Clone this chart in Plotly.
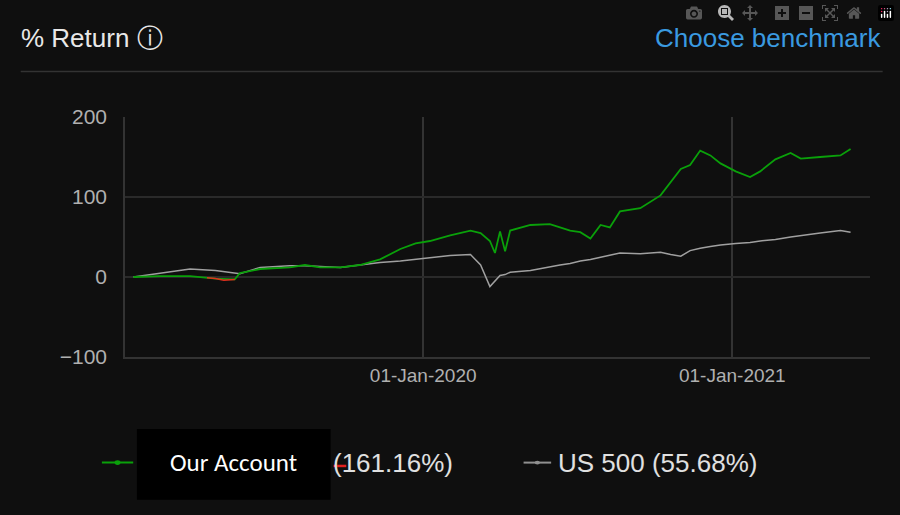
import plotly.graph_objects as go

dates = ["2019-01-23","2019-02-23","2019-03-31","2019-04-30","2019-05-23","2019-05-29","2019-06-22",
"2019-07-27","2019-08-14","2019-09-01","2019-09-25","2019-10-18","2019-11-11","2019-12-05","2019-12-23",
"2020-01-09","2020-02-02","2020-02-26","2020-03-09","2020-03-20","2020-03-26","2020-04-01","2020-04-07",
"2020-04-13","2020-05-07","2020-05-30","2020-06-11","2020-06-23","2020-07-05","2020-07-17","2020-07-29",
"2020-08-09","2020-08-21","2020-09-14","2020-10-08","2020-10-20","2020-11-01","2020-11-12","2020-11-24",
"2020-12-06","2020-12-18","2021-01-05","2021-01-22","2021-02-03","2021-02-21","2021-03-11","2021-03-23",
"2021-04-15","2021-05-09","2021-05-21"]
account = [0,1,1,-2,-3,5,10,12,15,12,12,15,22,35,42,45,52,58,55,45,30,57,32,58,65,66,62,58,56,48,65,62,82,
86,102,118,135,140,158,152,142,132,125,132,147,155,148,150,152,160]
us500 = [0,5,10,8,5,4,12,14,14,13,12,15,18,20,22,24,27,28,15,-12,-5,2,3,6,8,13,15,17,20,22,25,27,30,29,31,
28,26,33,36,38,40,42,43,45,47,50,52,55,58,56]
neg_dates = ["2019-04-20","2019-04-30","2019-05-10","2019-05-23"]
neg_vals = [-1,-2,-4,-3]
yticks = [-100, 0, 100, 200]
xticks = ["2020-01-01", "2021-01-01"]
xticklabels = ["01-Jan-2020", "01-Jan-2021"]

fig = go.Figure()
fig.add_trace(go.Scatter(x=dates, y=us500, mode="lines", line=dict(color="#a0a0a0", width=1.5)))
fig.add_trace(go.Scatter(x=dates, y=account, mode="lines", line=dict(color="#0aa00a", width=1.8)))
fig.add_trace(go.Scatter(x=neg_dates, y=neg_vals, mode="lines", line=dict(color="#e0301e", width=1.5)))

font = "Liberation Sans, Arial, sans-serif"
fig.update_layout(
    width=900, height=515, showlegend=False,
    paper_bgcolor="#0f0f0f", plot_bgcolor="#0f0f0f",
    margin=dict(l=125, r=30, t=117, b=158),
    font=dict(family=font, color="#b0b0b0", size=20),
    xaxis=dict(range=["2019-01-13", "2021-06-13"], tickvals=xticks, ticktext=xticklabels,
               showgrid=True, gridcolor="#333333", gridwidth=1.5, zeroline=False,
               showline=True, linecolor="#333333", linewidth=1.5, ticks="",
               tickfont=dict(size=19, color="#b0b0b0")),
    yaxis=dict(range=[-100, 200], tickvals=yticks, showgrid=True, gridcolor="#2a2a2a",
               gridwidth=1.5, zeroline=False, showline=True, linecolor="#333333", linewidth=1.5,
               ticks="", ticklabelstandoff=12, tickfont=dict(size=21, color="#b0b0b0")),
    shapes=[
        dict(type="line", xref="paper", yref="paper", x0=-0.14, x1=1.017, y0=1.19, y1=1.19,
             line=dict(color="#333333", width=1.5)),
        dict(type="line", xref="paper", yref="paper", x0=-0.031, x1=0.011, y0=-0.44, y1=-0.44,
             line=dict(color="#0aa00a", width=2)),
        dict(type="circle", xref="paper", yref="paper", x0=-0.014, x1=-0.006, y0=-0.450, y1=-0.430,
             fillcolor="#0aa00a", line=dict(width=0)),
        dict(type="line", xref="paper", yref="paper", x0=0.535, x1=0.572, y0=-0.44, y1=-0.44,
             line=dict(color="#909090", width=2)),
        dict(type="circle", xref="paper", yref="paper", x0=0.550, x1=0.557, y0=-0.448, y1=-0.432,
             fillcolor="#909090", line=dict(width=0)),
        dict(type="line", xref="paper", yref="paper", x0=0.28, x1=0.297, y0=-0.454, y1=-0.454,
             line=dict(color="#e02020", width=2.5)),
        dict(type="rect", xref="paper", yref="paper", x0=0.016, x1=0.276, y0=-0.595, y1=-0.3,
             fillcolor="#000000", line=dict(width=0)),
    ],
    annotations=[
        dict(text="% Return ⓘ", xref="paper", yref="paper", x=-0.142, y=1.33, xanchor="left",
             yanchor="middle", showarrow=False, font=dict(size=26, color="#e8e8e8")),
        dict(text="Choose benchmark", xref="paper", yref="paper", x=1.017, y=1.33, xanchor="right",
             yanchor="middle", showarrow=False, font=dict(size=26, color="#3a9ae0")),
        dict(text="(161.16%)", xref="paper", yref="paper", x=0.277, y=-0.44, xanchor="left",
             yanchor="middle", showarrow=False, font=dict(size=26, color="#e0e0e0")),
        dict(text="US 500 (55.68%)", xref="paper", yref="paper", x=0.578, y=-0.44, xanchor="left",
             yanchor="middle", showarrow=False, font=dict(size=26, color="#e0e0e0")),
        dict(text="Our Account", xref="paper", yref="paper", x=0.146, y=-0.44, xanchor="center",
             yanchor="middle", showarrow=False,
             font=dict(size=25, color="#ffffff", family="Carlito, DejaVu Sans, sans-serif")),
    ],
)
fig.write_html("out.html",
               post_script="document.body.style.margin='0';document.body.style.background='#0f0f0f';")
